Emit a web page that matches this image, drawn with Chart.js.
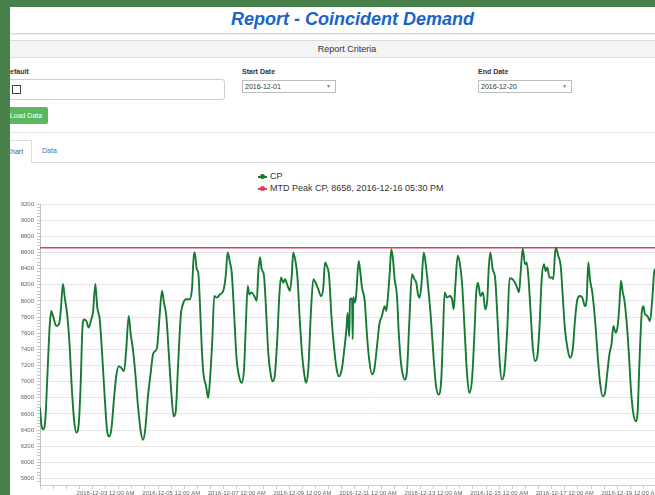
<!DOCTYPE html>
<html><head><meta charset="utf-8">
<script src="https://cdn.jsdelivr.net/npm/chart.js@4.4.0/dist/chart.umd.min.js"></script>
<style>
html,body{margin:0;padding:0;}
body{width:655px;height:495px;overflow:hidden;position:relative;background:#fff;font-family:"Liberation Sans",Arial,sans-serif;color:#333;}
.abs{position:absolute;white-space:nowrap;}
#topbar{left:0;top:0;width:655px;height:7px;background:#47804b;z-index:20}
#leftbar{left:0;top:0;width:10px;height:495px;background:#47804b;z-index:20}
#title{left:0;top:8px;width:705px;text-align:center;font:italic bold 18px "Liberation Sans",Arial,sans-serif;color:#1a64c8;line-height:22px}
#titleRule{left:0;top:33px;width:655px;height:1px;background:#d8d8d8;border-bottom:1px solid #eeeeee}
#critHead{left:0;top:40px;width:694px;height:16px;background:#f4f4f4;border-top:1px solid #dcdcdc;border-bottom:1px solid #e2e2e2;text-align:center;font-size:9px;line-height:16px;color:#333}
.lbl{font-weight:bold;font-size:7px;top:67px;line-height:9px;color:#333}
#inp{left:2px;top:79px;width:221px;height:19px;border:1px solid #cfcfcf;border-radius:3px;background:#fff}
#chk{left:12px;top:85px;width:7px;height:7px;border:1px solid #444;background:#fff}
.sel{top:80px;width:92px;height:11px;border:1px solid #bdbdbd;background:#fff;font-size:7px;line-height:11px;color:#333}
.sel span{position:absolute;left:2px;top:0}
.sel i{position:absolute;right:4px;top:0;font-style:normal;font-size:5px;color:#777}
#btn{left:4px;top:107px;width:44px;height:17px;background:#5cb85c;border-radius:2px;color:#fff;font-size:7px;line-height:17px;text-align:center}
#rule2{left:0;top:132px;width:655px;height:1px;background:#e6e6e6}
#tab{left:-10px;top:140px;width:40px;height:22px;border:1px solid #dddddd;border-bottom:none;background:#fff;font-size:7px;line-height:21px;color:#555}
#tabline{left:31px;top:162px;width:624px;height:1px;background:#dddddd}
#tab2{left:42px;top:145px;font-size:7px;line-height:11px;color:#337ab7}
.leg{left:258px;font-size:9px;line-height:11px;color:#333}
.leg b{display:inline-block;position:relative;width:9px;height:11px;vertical-align:top;margin-right:3px}
.leg b:before{content:"";position:absolute;left:0;top:5px;width:9px;height:1.5px;background:var(--c)}
.leg b:after{content:"";position:absolute;left:2px;top:3px;width:5px;height:5px;border-radius:50%;background:var(--c)}
#chart{left:10px;top:195px}
</style>
</head><body>
<div class="abs" id="topbar"></div>
<div class="abs" id="leftbar"></div>
<div class="abs" id="title">Report - Coincident Demand</div>
<div class="abs" id="titleRule"></div>
<div class="abs" id="critHead">Report Criteria</div>
<div class="abs lbl" style="left:5px">Default</div>
<div class="abs lbl" style="left:242px">Start Date</div>
<div class="abs lbl" style="left:478px">End Date</div>
<div class="abs" id="inp"></div>
<div class="abs" id="chk"></div>
<div class="abs sel" style="left:242px"><span>2016-12-01</span><i>▼</i></div>
<div class="abs sel" style="left:478px"><span>2016-12-20</span><i>▼</i></div>
<div class="abs" id="btn">Load Data</div>
<div class="abs" id="rule2"></div>
<div class="abs" id="tab"><span style="position:absolute;left:15px">Chart</span></div>
<div class="abs" id="tabline"></div>
<div class="abs" id="tab2">Data</div>
<div class="abs leg" style="top:171px"><b style="--c:#157a33"></b>CP</div>
<div class="abs leg" style="top:183px"><b style="--c:#dc3d5b"></b><span id="peakLabel"></span></div>
<canvas class="abs" id="chart" width="690" height="310"></canvas>
<script>
// ---- data (hours since 2016-12-01 00:00, CP value) ----
const cpWeek1 = [[0,6680],[1.0,6470],[2.2,6410],[3.9,6530],[5.3,7030],[7.1,7690],[8.3,7875],[9.5,7815],[11.9,7690],[13.9,7710],[15.1,7860],[16.8,8210],[18.1,8045],[20.0,7815],[21.7,7440],[22.9,7030],
[24.9,6530],[26.6,6370],[28.3,6470],[29.8,6990],[31.0,7650],[32.2,7770],[33.9,7750],[35.6,7670],[37.5,7770],[38.8,7860],[40.5,8210],[41.9,7920],[43.7,7770],[45.4,7360],[47.3,6820],
[49.0,6410],[50.5,6320],[52.2,6410],[54.1,6780],[55.8,7070],[57.6,7190],[59.5,7170],[61.5,7130],[63.1,7400],[64.9,7815],[66.4,7585],[68.0,7400],[69.7,7110],[71.7,6700],
[73.7,6385],[75.4,6280],[77.0,6410],[79.0,6820],[81.0,7110],[82.7,7340],[84.4,7380],[85.8,7440],[87.6,7835],[89.3,8125],[90.7,7980],[92.4,7815],[94.2,7360],[96.1,6860],
[97.8,6570],[99.3,6630],[101.0,7190],[103.0,7815],[104.6,7960],[107.0,8020],[109.5,8020],[111.2,8145],[112.7,8600],[113.4,8580],[114.7,8395],[115.8,8350],[117.1,7940],[118.3,7440],[119.5,7110],
[121.5,6945],[123.1,6800],[124.4,7030],[126.1,7525],[127.5,8060],[129.3,8040],[131.7,8080],[134.1,8125],[135.9,8310],[137.3,8600],[139.0,8475],[140.3,8350],[142.0,7855],[143.9,7270],
[145.6,7070],[147.6,6985],[149.3,7150],[150.5,7650],[152.0,8185],[153.1,8080],[154.9,8105],[156.8,8060],[158.6,8000],[159.7,8350],[161.0,8540],[162.2,8395],[163.9,8310],[165.4,7895],[167.0,7360]];
const cpWeek2 = [[169.0,7070],[170.3,7005],[171.9,7090],[173.6,7525],[175.1,8060],[176.3,8290],[178.0,8225],[179.3,8270],[181.2,8185],[182.9,8125],[184.2,8310],[185.3,8600],[187.1,8475],[188.3,8310],[190.2,7730],[191.9,7315],
[193.4,7090],[194.6,6985],[196.3,7150],[198.1,7815],[200.0,8270],[201.7,8225],[203.6,8145],[205.6,8060],[207.3,8165],[208.5,8475],[209.8,8435],[211.5,8310],[213.4,7770],[215.3,7400],
[217.1,7150],[218.8,7065],[220.8,7150],[222.4,7360],[224.4,7690],[225.0,7850],[226.3,7560],[226.8,8020],[228.3,8030],[228.8,7525],[229.2,8045],[230.3,7980],[231.2,8045],[233.2,8495],[234.4,8350],[235.6,8165],[237.6,8000],[239.3,7565],
[240.9,7270],[242.9,7090],[244.6,7150],[246.6,7440],[248.3,7710],[250.2,7815],[252.2,7935],[253.4,7875],[254.6,8060],[255.9,8350],[257.0,8640],[258.3,8515],[259.5,8270],[261.2,8060],[262.5,7605],[264.1,7235],
[265.4,7090],[266.8,7025],[268.5,7130],[270.2,7730],[272.2,8330],[273.9,8270],[275.3,8225],[276.6,8080],[277.8,8040],[279.0,8185],[280.8,8600],[282.4,8435],[284.4,8105],[286.1,7770],[288.1,7270],
[289.8,6945],[291.7,6840],[293.6,7025],[294.9,7605],[296.1,8105],[297.8,8040],[299.8,8060],[301.5,8020],[302.7,7895],[303.9,8185],[305.6,8560],[307.1,8475],[308.8,8225],[310.8,7605],[312.4,7110],
[314.1,6860],[316.1,7025],[317.8,7565],[319.2,8105],[320.5,8225],[322.2,8060],[324.1,8105],[325.8,7895],[327.3,8020],[328.3,8395],[329.5,8600],[331.2,8395],[333.1,8270],[334.9,7730]];
const cpWeek3 = [[336.4,7235],[338.0,7025],[339.7,7110],[341.9,7650],[343.6,8280],[345.6,8270],[347.6,8225],[349.5,8145],[350.5,8105],[351.7,8350],[353.2,8645],[354.9,8455],[356.1,8475],[357.3,8310],[359.0,7855],[360.5,7440],
[362.2,7255],[363.9,7315],[365.4,7650],[367.1,8270],[368.8,8455],[370.0,8370],[371.2,8415],[372.7,8290],[374.4,8290],[375.6,8270],[376.8,8580],[377.5,8658],[379.2,8560],[381.0,8435],[382.5,8060],[384.1,7650],
[386.1,7400],[387.8,7295],[389.8,7400],[391.5,7770],[393.2,8020],[395.1,8060],[396.8,8040],[398.8,7935],[400.0,8020],[401.2,8475],[402.4,8270],[404.1,8105],[406.1,7770],[408.1,7315],
[409.8,6985],[411.7,6820],[413.4,6860],[415.1,7110],[416.6,7335],[418.3,7480],[419.5,7690],[421.3,7605],[422.7,7690],[423.9,7935],[425.1,8250],[426.4,8105],[427.5,8020],[429.3,7730],[431.0,7315],
[432.4,6900],[434.1,6610],[435.9,6510],[437.4,6655],[438.5,7190],[440.3,7855],[441.5,7935],[442.7,7835],[444.4,7815],[446.3,7750],[448.0,8020],[449.5,8370],[450.7,8400],[453.7,8250],[457.3,7800],[461.0,7300],[464.6,6900],[468.3,6700]];

const peakValue = 8658;
const peakTime = '2016-12-16 05:30 PM';
const xTickHours  = [48, 96, 144, 192, 240, 288, 336, 384, 432];
const xTickLabels = ['2016-12-03 12:00 AM','2016-12-05 12:00 AM','2016-12-07 12:00 AM','2016-12-09 12:00 AM','2016-12-11 12:00 AM','2016-12-13 12:00 AM','2016-12-15 12:00 AM','2016-12-17 12:00 AM','2016-12-19 12:00 AM'];
const yTickValues = [5800,6000,6200,6400,6600,6800,7000,7200,7400,7600,7800,8000,8200,8400,8600,8800,9000,9200];

document.getElementById('peakLabel').textContent = 'MTD Peak CP, ' + peakValue + ', ' + peakTime;

const cpPoints = [...cpWeek1, ...cpWeek2, ...cpWeek3].map(p => ({x: p[0], y: p[1]}));
const X_MAX = 480, Y_MIN = 5720, Y_MAX = 9200;
const axisFont = {family: '"Liberation Sans", Arial, sans-serif', size: 6};

new Chart(document.getElementById('chart'), {
  type: 'line',
  data: {
    datasets: [
      {label: 'CP', data: cpPoints, borderColor: '#157a33', borderWidth: 1.9, pointRadius: 0, cubicInterpolationMode: 'monotone'},
      {label: 'MTD Peak CP', data: [{x: 0, y: peakValue}, {x: X_MAX, y: peakValue}], borderColor: '#dc3d5b', borderWidth: 1.6, pointRadius: 0}
    ]
  },
  options: {
    responsive: false, animation: false, devicePixelRatio: 1,
    layout: {padding: {top: 9, right: 4, left: 0, bottom: 0}},
    plugins: {legend: {display: false}, tooltip: {enabled: false}},
    scales: {
      x: {
        type: 'linear', min: 0, max: X_MAX,
        afterBuildTicks: s => { const t = []; for (let h = 0; h <= X_MAX + 0.01; h += 9.6) t.push({value: Math.round(h * 10) / 10}); s.ticks = t; },
        afterFit: s => { s.height = 20; },
        ticks: {
          autoSkip: false, maxRotation: 0, minRotation: 0, padding: 1, color: '#666', font: axisFont,
          callback: v => { const i = xTickHours.indexOf(Math.round(v)); return (i >= 0 && Math.abs(v - Math.round(v)) < 0.05) ? xTickLabels[i] : ''; }
        },
        grid: {drawOnChartArea: false, tickLength: 4, tickColor: '#c0d0e0'},
        border: {color: '#c0d0e0'}
      },
      y: {
        min: Y_MIN, max: Y_MAX,
        afterBuildTicks: s => { const t = []; for (let v = 5760; v <= Y_MAX; v += 40) t.push({value: v}); s.ticks = t; },
        afterFit: s => { s.width = 30; },
        ticks: {
          autoSkip: false, padding: 3, color: '#666', font: axisFont,
          callback: v => yTickValues.includes(v) ? String(v) : ''
        },
        grid: {
          tickLength: 3,
          color: c => (c.tick && yTickValues.includes(c.tick.value)) ? '#e6e6e6' : 'rgba(0,0,0,0)',
          tickColor: '#c8c8c8'
        },
        border: {color: '#c0c0c0'}
      }
    }
  }
});
</script>
</body></html>
